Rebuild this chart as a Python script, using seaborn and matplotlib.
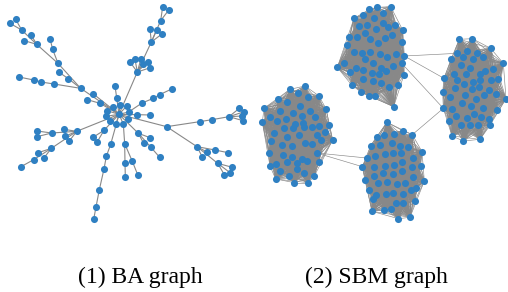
import numpy as np
import pandas as pd
import matplotlib
matplotlib.use("Agg")
import matplotlib.pyplot as plt
import seaborn as sns
from matplotlib.collections import LineCollection

# --- BA graph: node positions (layout units) and parent of each node (tree, m=1) ---
ba_x = [357, 300, 279, 262, 242, 162, 123, 101, 57, 205, 176, 174, 158, 150, 110, 93, 73, 65, 30, 47,
        412, 390, 405, 423, 443, 428, 451, 454, 450, 470, 487, 482, 488, 507,
        345, 350, 360, 380, 338, 321, 317, 331, 348, 370, 385, 386, 412, 451, 426, 460, 479, 517,
        500, 599, 636, 687, 718, 733, 727, 729, 591, 621, 645, 684, 607, 653, 697, 690, 673,
        415, 450, 431, 453, 479, 374, 375, 376, 397, 413,
        332, 319, 312, 298, 288, 281, 312, 279, 292,
        230, 192, 155, 111, 111, 195, 207, 154, 115, 131, 101, 63]
ba_y = [343, 310, 281, 299, 265, 252, 246, 240, 231, 236, 216, 190, 148, 116, 133, 104, 122, 90, 70, 58,
        216, 186, 178, 176, 185, 193, 203, 126, 88, 90, 101, 62, 21, 29,
        258, 293, 315, 318, 320, 332, 349, 362, 372, 372, 357, 336, 344, 345, 309, 295, 284, 266,
        380, 365, 359, 350, 325, 335, 348, 362, 440, 456, 450, 458, 471, 490, 502, 518, 524,
        400, 413, 430, 442, 472, 431, 490, 532, 484, 524,
        433, 469, 507, 569, 621, 658, 391, 412, 425,
        394, 388, 399, 393, 410, 409, 424, 445, 458, 475, 479, 500]
ba_parent = [-1, 0, 0, 1, 0, 4, 5, 6, 7, 4, 9, 4, 11, 12, 11, 14, 14, 14, 17, 17,
             0, 20, 20, 20, 20, 20, 20, 20, 27, 27, 27, 27, 31, 31,
             35, 0, 0, 0, 0, 0, 0, 0, 0, 0, 0, 0, 0, 46, 45, 48, 49, 50,
             0, 52, 53, 54, 55, 55, 55, 55, 52, 60, 60, 62, 60, 60, 65, 65, 65,
             0, 69, 69, 69, 72, 43, 74, 75, 74, 77,
             0, 79, 80, 81, 82, 83, 0, 85, 85,
             0, 88, 88, 90, 90, 88, 88, 88, 95, 95, 95, 98]

# --- SBM graph: four blocks, node positions (layout units) ---
top_x = [358, 382, 422, 312, 340, 372, 400, 326, 352, 378, 398, 415, 436, 458, 298, 320, 345, 360,
         385, 404, 425, 455, 292, 312, 335, 360, 390, 410, 438, 463, 283, 318, 346, 370, 394, 408,
         428, 455, 262, 300, 340, 365, 388, 462, 305, 340, 368, 394, 418, 443, 334, 356, 374, 431]
top_y = [28, 22, 20, 55, 45, 55, 40, 78, 74, 88, 68, 80, 76, 90, 110, 112, 100, 118,
         130, 115, 105, 126, 136, 155, 158, 155, 162, 170, 162, 168, 190, 203, 178, 190, 205, 212,
         198, 190, 202, 216, 210, 218, 222, 224, 255, 238, 244, 250, 262, 255, 277, 287, 287, 320]
right_x = [628, 667, 622, 651, 680, 722, 603, 638, 668, 700, 632, 660, 760, 612, 648, 690, 705, 730,
           582, 620, 642, 668, 690, 722, 743, 578, 616, 665, 687, 718, 738, 600, 645, 677, 703, 768,
           580, 605, 636, 663, 700, 740, 618, 650, 672, 694, 718, 596, 632, 660, 683, 720, 606, 640, 690]
right_y = [118, 116, 160, 152, 160, 145, 178, 170, 178, 172, 195, 203, 190, 222, 222, 222, 213, 206,
           235, 240, 253, 246, 240, 240, 236, 276, 265, 266, 262, 270, 283, 292, 286, 296, 284, 296,
           325, 326, 310, 318, 325, 330, 348, 354, 343, 352, 358, 363, 376, 375, 376, 376, 408, 423, 418]
bottom_x = [411, 380, 403, 432, 458, 487, 362, 390, 425, 450, 475, 516, 350, 376, 405, 430, 454, 488,
            337, 373, 404, 431, 455, 485, 512, 345, 373, 400, 428, 455, 490, 523, 385, 412, 440, 465,
            498, 357, 378, 408, 430, 460, 482, 368, 438, 460, 495, 366, 402, 422, 445, 480]
bottom_y = [367, 411, 404, 402, 392, 404, 437, 436, 430, 437, 440, 455, 474, 468, 462, 460, 458, 475,
            500, 500, 498, 496, 486, 502, 498, 540, 528, 520, 522, 514, 530, 543, 550, 547, 553, 548,
            565, 570, 585, 582, 579, 583, 570, 597, 608, 608, 602, 634, 630, 627, 656, 652]
left_x = [120, 165, 85, 145, 174, 206, 112, 150, 180, 228, 42, 90, 128, 155, 196, 60, 82, 108, 134,
          160, 185, 206, 238, 37, 102, 130, 163, 72, 110, 147, 200, 226, 62, 97, 125, 166, 186, 212,
          248, 56, 100, 126, 157, 200, 78, 110, 140, 172, 206, 60, 90, 140, 117, 162, 193, 77, 133, 175]
left_y = [268, 258, 298, 280, 290, 287, 305, 318, 332, 326, 325, 332, 340, 348, 350, 352, 364, 356, 372,
          370, 380, 378, 374, 367, 385, 383, 382, 398, 412, 404, 405, 395, 422, 434, 437, 430, 432, 420,
          420, 458, 466, 471, 478, 459, 492, 485, 490, 484, 487, 498, 512, 507, 527, 520, 528, 537, 548, 548]

# edges between blocks: (block, node, block, node)
sbm_bridges = [("top", 29, "right", 2), ("top", 29, "right", 18), ("top", 37, "right", 36),
               ("bottom", 5, "right", 36), ("left", 43, "bottom", 12), ("left", 43, "bottom", 18)]

node_color = "#2f80c2"
edge_color = "#888888"

sns.set_style("white")
fig = plt.figure(figsize=(5.08, 2.92), dpi=100)

# --- panel 1: BA graph ---
ax1 = fig.add_axes([0, 1 - 230 / 292, 254 / 508, 230 / 292])
ba = pd.DataFrame({"x": ba_x, "y": ba_y, "parent": ba_parent})
segs = [[(r.x, r.y), (ba.x[r.parent], ba.y[r.parent])] for r in ba.itertuples() if r.parent >= 0]
ax1.add_collection(LineCollection(segs, colors=edge_color, linewidths=0.8, zorder=1))
sns.scatterplot(data=ba, x="x", y="y", color=node_color, s=26, linewidth=0, ax=ax1, zorder=2)
ax1.set_xlim(0, 762)
ax1.set_ylim(690, 0)
ax1.axis("off")

# --- panel 2: SBM graph ---
ax2 = fig.add_axes([250 / 508, 1 - 230 / 292, 258 / 508, 230 / 292])
blocks = {"top": (top_x, top_y), "right": (right_x, right_y),
          "bottom": (bottom_x, bottom_y), "left": (left_x, left_y)}
frames = []
segs = []
for name, (bx, by) in blocks.items():
    frames.append(pd.DataFrame({"x": bx, "y": by, "block": name}))
    # dense within-block connections
    for i in range(len(bx)):
        for j in range(i + 1, len(bx)):
            segs.append([(bx[i], by[i]), (bx[j], by[j])])
for a, i, b, j in sbm_bridges:
    segs.append([(blocks[a][0][i], blocks[a][1][i]), (blocks[b][0][j], blocks[b][1][j])])
sbm = pd.concat(frames, ignore_index=True)
ax2.add_collection(LineCollection(segs, colors=edge_color, linewidths=0.45, zorder=1))
sns.scatterplot(data=sbm, x="x", y="y", color=node_color, s=26, linewidth=0, ax=ax2, zorder=2)
ax2.set_xlim(0, 774)
ax2.set_ylim(690, 0)
ax2.axis("off")

# captions
cap = dict(family="Liberation Serif", fontsize=17, color="black", ha="center", va="baseline")
fig.text(140 / 508, 1 - 283 / 292, "(1) BA graph", **cap)
fig.text(376 / 508, 1 - 283 / 292, "(2) SBM graph", **cap)

fig.savefig("out.png", dpi=100)
